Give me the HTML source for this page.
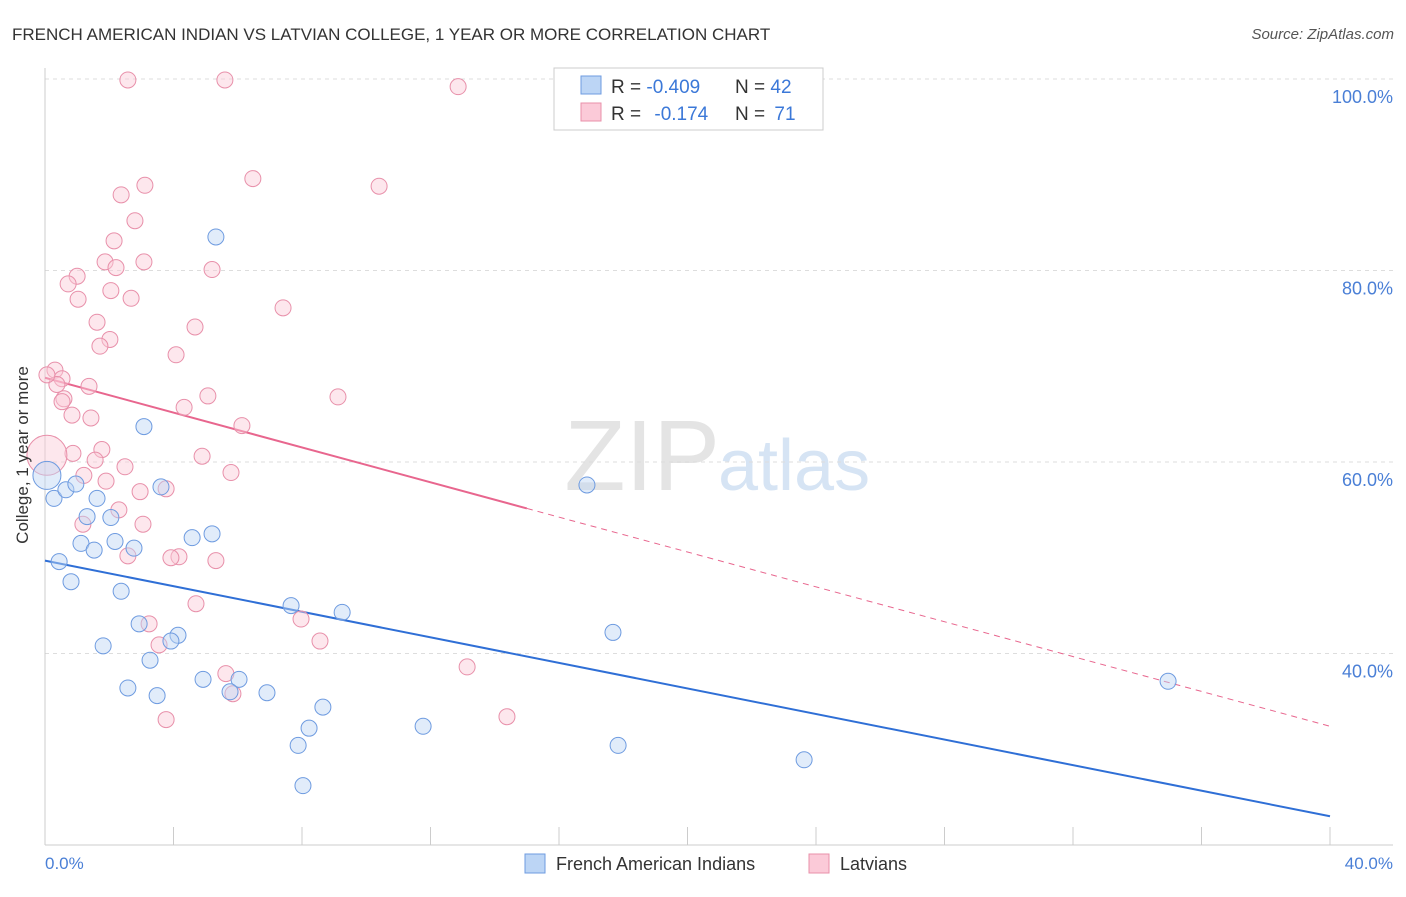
<!DOCTYPE html>
<html><head><meta charset="utf-8"><style>
body{margin:0;background:#fff;font-family:"Liberation Sans",sans-serif}
svg text{font-family:"Liberation Sans",sans-serif}
</style></head><body>
<svg id="c" width="1406" height="892" xmlns="http://www.w3.org/2000/svg">
<text x="12" y="40" font-size="17" fill="#333">FRENCH AMERICAN INDIAN VS LATVIAN COLLEGE, 1 YEAR OR MORE CORRELATION CHART</text>
<text x="1394" y="39" font-size="15" fill="#555" text-anchor="end" font-style="italic">Source: ZipAtlas.com</text>
<text x="720" y="490" font-size="100" fill="#e4e4e4" text-anchor="end" font-family="Liberation Serif">ZIP</text>
<text x="718" y="490" font-size="72" fill="#d6e4f4">atlas</text>
<g id="grid"></g><g id="axes"></g><g id="lines"></g><g id="pts"></g>
<text x="28" y="455" font-size="17" fill="#333" text-anchor="middle" transform="rotate(-90 28 455)">College, 1 year or more</text>
<text x="45" y="869" font-size="17" fill="#4a7fd6">0.0%</text>
<text x="1393" y="869" font-size="17" fill="#4a7fd6" text-anchor="end">40.0%</text>
<g>
<rect x="554" y="68" width="269" height="62" fill="#fff" stroke="#ccc"/>
<rect x="581" y="76" width="20" height="18" fill="#bcd5f5" stroke="#6e9be0"/>
<rect x="581" y="103" width="20" height="18" fill="#fbcad8" stroke="#e890aa"/>
<text x="611" y="93" font-size="19" fill="#333">R = <tspan fill="#3b78d8">-0.409</tspan></text>
<text x="735" y="93" font-size="19" fill="#333">N = <tspan fill="#3b78d8">42</tspan></text>
<text x="611" y="120" font-size="19" fill="#333">R = <tspan fill="#3b78d8" dx="8">-0.174</tspan></text>
<text x="735" y="120" font-size="19" fill="#333">N = <tspan fill="#3b78d8" dx="4">71</tspan></text>
</g>
<g>
<rect x="525" y="854" width="20" height="19" fill="#bcd5f5" stroke="#6e9be0"/>
<text x="556" y="870" font-size="18" fill="#333">French American Indians</text>
<rect x="809" y="854" width="20" height="19" fill="#fbcad8" stroke="#e890aa"/>
<text x="840" y="870" font-size="18" fill="#333">Latvians</text>
</g>
</svg>
<script>
const blueX=[5.32,3.08,16.87,0.28,0.65,0.96,1.62,1.31,2.05,3.61,1.12,1.53,2.18,2.77,4.58,5.20,0.44,0.81,2.37,7.66,9.25,17.68,2.93,4.14,3.92,1.81,3.27,2.58,3.49,4.92,6.04,5.76,6.91,8.65,8.22,11.77,7.88,17.84,23.63,8.03,34.96,0.06];
const blueY=[83.5,63.7,57.6,56.2,57.1,57.7,56.2,54.3,54.2,57.4,51.5,50.8,51.7,51.0,52.1,52.5,49.6,47.5,46.5,45.0,44.3,42.2,43.1,41.9,41.3,40.8,39.3,36.4,35.6,37.3,37.3,36.0,35.9,34.4,32.2,32.4,30.4,30.4,28.9,26.2,37.1,58.6];
const blueR=[8,8,8,8,8,8,8,8,8,8,8,8,8,8,8,8,8,8,8,8,8,8,8,8,8,8,8,8,8,8,8,8,8,8,8,8,8,8,8,8,8,14];
const pinkX=[2.58,5.60,12.86,3.11,2.37,6.47,10.40,2.80,2.15,1.87,3.08,2.21,1.00,5.20,0.72,2.05,2.68,1.03,7.41,1.62,4.67,2.02,1.71,4.08,0.31,0.53,0.37,1.37,0.59,5.07,9.12,0.53,4.33,0.84,1.43,6.13,0.87,1.77,1.56,4.89,2.49,5.79,1.21,1.90,2.96,3.77,2.30,1.18,3.05,2.58,4.17,3.92,5.32,4.70,3.24,7.97,8.56,3.55,5.63,13.14,5.85,14.38,3.77,0.06,0.06];
const pinkY=[99.9,99.9,99.2,88.9,87.9,89.6,88.8,85.2,83.1,80.9,80.9,80.3,79.4,80.1,78.6,77.9,77.1,77.0,76.1,74.6,74.1,72.8,72.1,71.2,69.6,68.7,68.1,67.9,66.6,66.9,66.8,66.3,65.7,64.9,64.6,63.8,60.9,61.3,60.2,60.6,59.5,58.9,58.6,58.0,56.9,57.2,55.0,53.5,53.5,50.2,50.1,50.0,49.7,45.2,43.1,43.6,41.3,40.9,37.9,38.6,35.8,33.4,33.1,69.1,60.7];
const pinkR=[8,8,8,8,8,8,8,8,8,8,8,8,8,8,8,8,8,8,8,8,8,8,8,8,8,8,8,8,8,8,8,8,8,8,8,8,8,8,8,8,8,8,8,8,8,8,8,8,8,8,8,8,8,8,8,8,8,8,8,8,8,8,8,8,20];
const yTicks=[100,80,60,40];
const yTickLabels=["100.0%","80.0%","60.0%","40.0%"];
const xTicks=[0,4,8,12,16,20,24,28,32,36,40];
const blueTrend=[49.7,23.0];
const pinkTrend=[68.8,32.4];
const pinkSolidEnd=15;
const NS="http://www.w3.org/2000/svg";
const sx=v=>45+v*32.125, sy=v=>845-(v-20)*9.575;
function mk(t,a,p){const e=document.createElementNS(NS,t);for(const k in a)e.setAttribute(k,a[k]);p.appendChild(e);return e;}
const grid=document.getElementById('grid'),axes=document.getElementById('axes'),lines=document.getElementById('lines'),pts=document.getElementById('pts');
yTicks.forEach((v,i)=>{
 const l=mk('line',{x1:45,x2:1393,y1:sy(v),y2:sy(v),stroke:'#ddd','stroke-dasharray':'4,4'},grid);
 
 
 const t=mk('text',{x:1393,y:sy(v)+24,'font-size':18,fill:'#4a7fd6','text-anchor':'end'},grid);
 t.textContent=yTickLabels[i];
 
 
});
const ya=mk('line',{x1:45,x2:45,y1:68,y2:845,stroke:'#ccc'},axes);


const xa=mk('line',{x1:45,x2:1393,y1:845,y2:845,stroke:'#ccc'},axes);


xTicks.forEach(v=>{
 const t=mk('line',{x1:sx(v),x2:sx(v),y1:827,y2:845,stroke:'#ccc'},axes);
 
 
});
function dots(X,Y,R,fill,stroke,name){X.forEach((x,i)=>{
 const c=mk('circle',{cx:sx(x),cy:sy(Y[i]),r:R[i],fill:fill,'fill-opacity':0.45,stroke:stroke,'stroke-width':1},pts);
 
 
});}
dots(pinkX,pinkY,pinkR,'#fbcad8','#e890aa','latvian-point');
dots(blueX,blueY,blueR,'#bcd5f5','#6e9be0','french-american-indian-point');
const pm=pinkTrend[0]+(pinkTrend[1]-pinkTrend[0])*pinkSolidEnd/40;
const p1=mk('line',{x1:sx(0),y1:sy(pinkTrend[0]),x2:sx(pinkSolidEnd),y2:sy(pm),stroke:'#e8668e','stroke-width':2},lines);


const p2=mk('line',{x1:sx(pinkSolidEnd),y1:sy(pm),x2:sx(40),y2:sy(pinkTrend[1]),stroke:'#e8668e','stroke-width':1,'stroke-dasharray':'6,5'},lines);


const b=mk('line',{x1:sx(0),y1:sy(blueTrend[0]),x2:sx(40),y2:sy(blueTrend[1]),stroke:'#2f6fd6','stroke-width':2},lines);


</script>
</body></html>
